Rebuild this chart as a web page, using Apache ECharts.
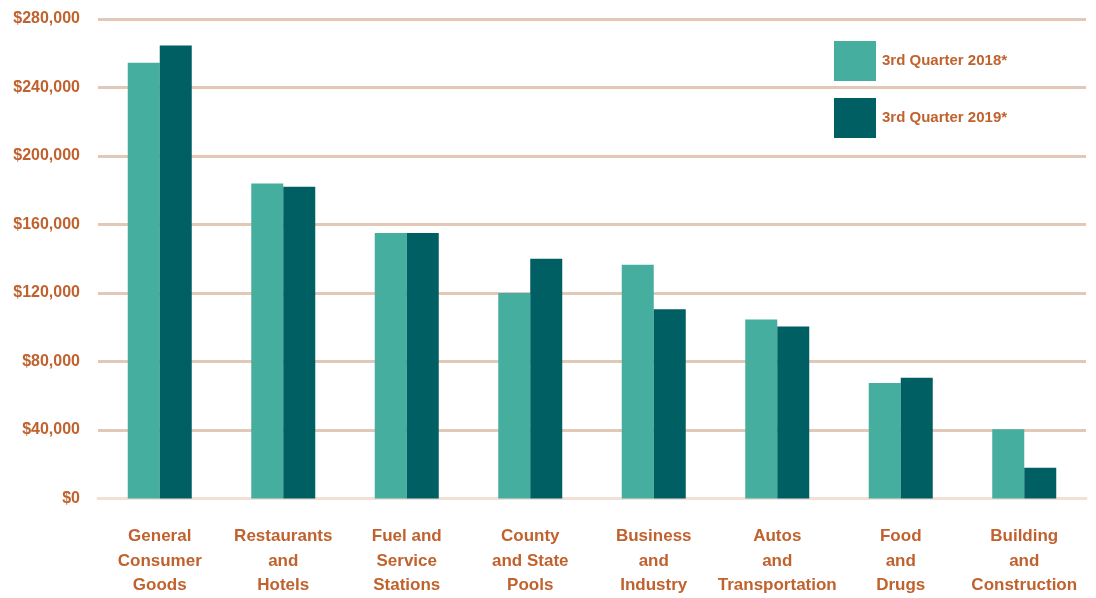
<!DOCTYPE html>
<html><head><meta charset="utf-8">
<script src="https://cdn.jsdelivr.net/npm/echarts@6/dist/echarts.min.js"></script>
<style>html,body{margin:0;padding:0;background:#fff}#c{width:1096px;height:598px}</style>
</head><body><div id="c"></div>
<script>
const categories = ["General\nConsumer\nGoods","Restaurants\nand\nHotels","Fuel and\nService\nStations","County\nand State\nPools","Business\nand\nIndustry","Autos\nand\nTransportation","Food\nand\nDrugs","Building\nand\nConstruction"];
const series2018 = [254500, 184000, 155000, 120000, 136500, 104500, 67500, 40500];
const series2019 = [264500, 182000, 155000, 140000, 110500, 100500, 70500, 18000];
const seriesNames = ["3rd Quarter 2018*", "3rd Quarter 2019*"];

const txt = '#c0622e';
const chart = echarts.init(document.getElementById('c'));
chart.setOption({
  animation: false,
  grid: {left: 98, right: 10, top: 19, bottom: 97},
  legend: {
    left: 834, top: 41, padding: 0, orient: 'vertical', itemWidth: 42, itemHeight: 40, itemGap: 17,
    icon: 'rect',
    textStyle: {color: txt, fontWeight: 'bold', fontSize: 15, fontFamily: 'Liberation Sans', padding: [0, 0, 0, 1]},
    data: seriesNames
  },
  xAxis: {
    type: 'category', data: categories,
    axisLine: {lineStyle: {color: '#f0e0d6', width: 3}},
    axisTick: {show: false},
    axisLabel: {color: txt, fontWeight: 'bold', fontSize: 17, fontFamily: 'Liberation Sans', lineHeight: 24.5, margin: 26, interval: 0}
  },
  yAxis: {
    type: 'value', min: 0, max: 280000, interval: 40000,
    axisLine: {show: false}, axisTick: {show: false},
    splitLine: {lineStyle: {color: '#e2c8b6', width: 3}},
    axisLabel: {color: txt, fontWeight: 'bold', fontSize: 16, fontFamily: 'Liberation Sans', margin: 18,
      formatter: v => '$' + v.toLocaleString('en-US')}
  },
  series: [
    {name: seriesNames[0], type: 'bar', data: series2018, barWidth: 32, barGap: '0%', itemStyle: {color: '#45ae9f'}},
    {name: seriesNames[1], type: 'bar', data: series2019, barWidth: 32, barGap: '0%', itemStyle: {color: '#005f62'}}
  ]
});
</script></body></html>
